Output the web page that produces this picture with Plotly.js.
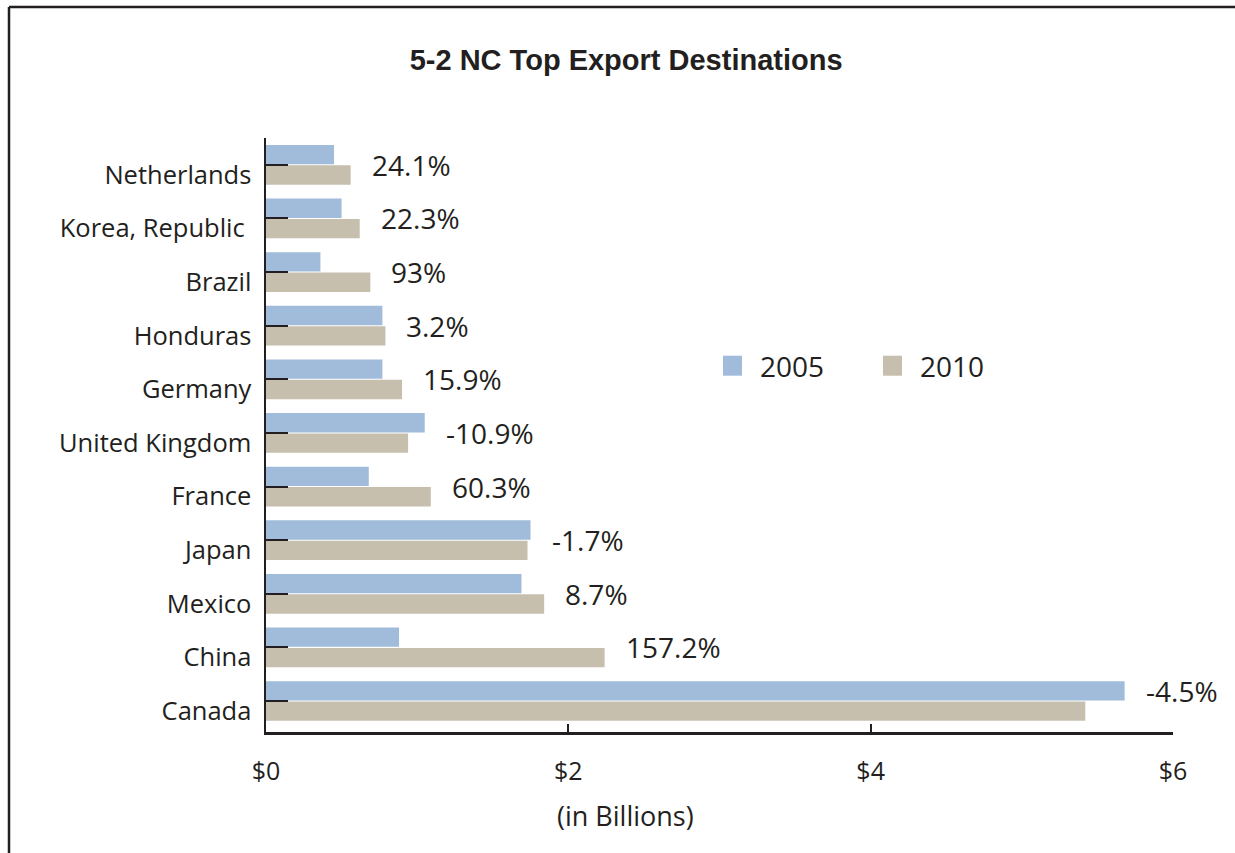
<!DOCTYPE html>
<html><head><meta charset="utf-8">
<script src="https://cdn.plot.ly/plotly-3.0.1.min.js"></script>
<style>html,body{margin:0;padding:0;background:#fff}#chart{width:1235px;height:853px}</style>
</head><body><div id="chart"></div>
<script>
const countries = ['Netherlands','Korea, Republic\u00A0','Brazil','Honduras','Germany','United Kingdom','France','Japan','Mexico','China','Canada'];
const exports2005 = [0.45,0.50,0.36,0.77,0.77,1.05,0.68,1.75,1.69,0.88,5.68];
const exports2010 = [0.56,0.62,0.69,0.79,0.90,0.94,1.09,1.73,1.84,2.24,5.42];
const changeLabels = ['24.1%','22.3%','93%','3.2%','15.9%','-10.9%','60.3%','-1.7%','8.7%','157.2%','-4.5%'];
const seriesNames = ['2005','2010'];
const xTickVals = [0,2,4,6];
const xTickText = ['$0','$2','$4','$6'];
const xAxisTitle = '(in Billions)';
const chartTitle = '5-2 NC Top Export Destinations';

const INK = '#231F20';
const FONT = 'Open Sans, sans-serif';
const PLOT_H = 853 - 138 - 121;

const traces = [
  {type:'bar', orientation:'h', name:seriesNames[0], y:countries, x:exports2005,
   marker:{color:'#A1BCDB'}, hoverinfo:'x+y'},
  {type:'bar', orientation:'h', name:seriesNames[1], y:countries, x:exports2010,
   marker:{color:'#C6BFAE'}, hoverinfo:'x+y'}
];

const annotations = countries.map((c,i)=>({
  x: Math.max(exports2005[i], exports2010[i]), y: c, xref:'x', yref:'y',
  text: changeLabels[i], showarrow:false, xanchor:'left', yanchor:'middle',
  xshift: 19, yshift: (i === countries.length-1) ? 10 : 0,
  font:{family:FONT, size:28, color:INK}
}));
annotations.push({
  text: xAxisTitle, xref:'paper', yref:'paper', x:(625-266)/907, y:-(815-732)/PLOT_H,
  xanchor:'center', yanchor:'middle', showarrow:false,
  font:{family:FONT, size:27, color:INK}
});

const layout = {
  width:1235, height:853,
  paper_bgcolor:'#fff', plot_bgcolor:'#fff',
  margin:{l:266, r:62, t:138, b:121},
  barmode:'group', bargap:0.24, bargroupgap:0.05,
  title:{text:chartTitle, xref:'container', yref:'container',
         x:0.507, y:0.93, xanchor:'center', yanchor:'middle',
         font:{family:'Liberation Sans, Arial, sans-serif', size:29, color:INK, weight:'bold'}},
  font:{family:FONT, color:INK, size:25},
  xaxis:{range:[0,6], tickvals:xTickVals, ticktext:xTickText, showgrid:false, zeroline:false,
         showline:true, linecolor:INK, linewidth:3, ticks:'inside', ticklen:8, tickwidth:2, tickcolor:INK,
         ticklabelstandoff:15, tickfont:{family:FONT, size:25, color:INK}, fixedrange:true},
  yaxis:{type:'category', autorange:'reversed', showgrid:false, zeroline:false,
         showline:true, linecolor:INK, linewidth:2.5, ticks:'inside', ticklen:22, tickwidth:2, tickcolor:INK,
         ticklabelstandoff:7, ticklabelshift:-10, tickfont:{family:FONT, size:25.5, color:INK}, fixedrange:true},
  showlegend:true,
  legend:{orientation:'h', x:(720-266)/907, y:(732-366)/PLOT_H, xanchor:'left', yanchor:'middle',
          bgcolor:'rgba(0,0,0,0)', font:{family:FONT, size:28, color:INK},
          entrywidth:115, entrywidthmode:'pixels', traceorder:'normal'},
  annotations: annotations,
  shapes:[
    {type:'line', xref:'paper', yref:'paper', x0:(9-266)/907, x1:(9-266)/907, y0:-121/PLOT_H, y1:(853-7-121)/PLOT_H,
     line:{color:INK, width:2.5}},
    {type:'line', xref:'paper', yref:'paper', x0:(9-266)/907, x1:(1235-266)/907, y0:(853-7-121)/PLOT_H, y1:(853-7-121)/PLOT_H,
     line:{color:INK, width:2.5}}
  ]
};

Plotly.newPlot('chart', traces, layout, {displayModeBar:false, staticPlot:true}).then(()=>{
  document.querySelectorAll('.legend .legendpoints path').forEach(p=>{
    p.setAttribute('d','M2,10H-17V-10H2Z');
    p.style.strokeWidth = '0';
  });
});
</script></body></html>
